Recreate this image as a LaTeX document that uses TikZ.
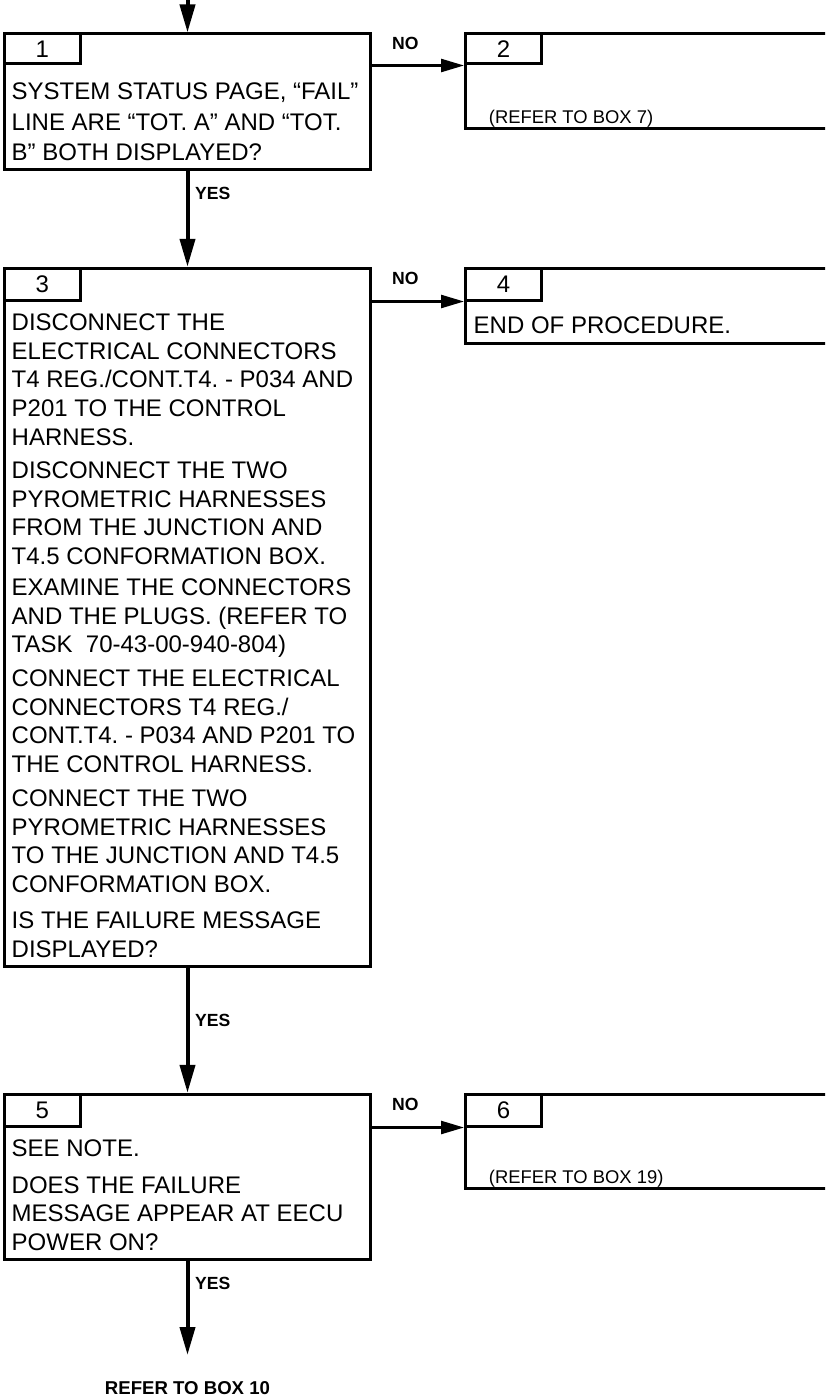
\documentclass[tikz,border=0pt]{standalone}
\usepackage{fontspec}
\setmainfont{Liberation Sans}
\usetikzlibrary{arrows.meta}
\frenchspacing
\begin{document}
\begin{tikzpicture}[x=1pt,y=-1pt,
  box/.style={draw, line width=3pt, rectangle, inner sep=0pt},
  tab/.style={draw, line width=3pt, rectangle, inner sep=0pt, font=\fontsize{24}{28}\selectfont},
  body/.style={font=\frenchspacing\fontsize{24}{#1}\selectfont, inner sep=0pt, anchor=north west, align=left},
  body/.default=28.7,
  small/.style={font=\fontsize{18.4}{22}\selectfont, inner sep=0pt, anchor=base west},
  lbl/.style={font=\bfseries\fontsize{17.6}{20}\selectfont, inner sep=0pt, anchor=base west},
  varrow/.style={line width=4pt, -{Triangle[length=28pt,width=15pt]}},
  harrow/.style={line width=2.5pt, -{Triangle[length=23pt,width=13pt]}}
]
\useasboundingbox (0,0) rectangle (825,1397);
\clip (0,0) rectangle (825,1397);

% ---- left column boxes
\node[box, minimum width=365.6pt, minimum height=135pt] (b1) at (187.5,101.5) {};
\node[tab, minimum width=75.3pt, minimum height=30pt] (t1) at (42.35,49) {1};
\node[body=30.5] (p1) at (11.5,82.7) {SYSTEM STATUS PAGE, “FAIL”\\LINE ARE “TOT. A” AND “TOT.\\B” BOTH DISPLAYED?};

\node[box, minimum width=365.6pt, minimum height=697.7pt] (b3) at (187.5,617.15) {};
\node[tab, minimum width=75.3pt, minimum height=31.7pt] (t3) at (42.35,284.15) {3};
\node[body] (p3a) at (11.5,313.4) {DISCONNECT THE\\ELECTRICAL CONNECTORS\\T4 REG./CONT.T4. - P034 AND\\P201 TO THE CONTROL\\HARNESS.};
\node[body] (p3b) at (11.5,461.4) {DISCONNECT THE TWO\\PYROMETRIC HARNESSES\\FROM THE JUNCTION AND\\T4.5 CONFORMATION BOX.};
\node[body] (p3c) at (11.5,578.4) {EXAMINE THE CONNECTORS\\AND THE PLUGS. (REFER TO\\TASK\ \ 70-43-00-940-804)};
\node[body] (p3d) at (11.5,669.4) {CONNECT THE ELECTRICAL\\CONNECTORS T4 REG./\\CONT.T4. - P034 AND P201 TO\\THE CONTROL HARNESS.};
\node[body] (p3e) at (11.5,789.4) {CONNECT THE TWO\\PYROMETRIC HARNESSES\\TO THE JUNCTION AND T4.5\\CONFORMATION BOX.};
\node[body] (p3f) at (11.5,911.4) {IS THE FAILURE MESSAGE\\DISPLAYED?};

\node[box, minimum width=365.6pt, minimum height=164.7pt] (b5) at (187.5,1176.65) {};
\node[tab, minimum width=75.3pt, minimum height=31.7pt] (t5) at (42.35,1110.15) {5};
\node[body] (p5a) at (11.5,1139.4) {SEE NOTE.};
\node[body=28.5] (p5b) at (11.5,1176.4) {DOES THE FAILURE\\MESSAGE APPEAR AT EECU\\POWER ON?};

% ---- right column boxes
\node[box, minimum width=374.5pt, minimum height=94.6pt] (b2) at (652.75,81) {};
\node[tab, minimum width=76.2pt, minimum height=30.3pt] (t2) at (503.6,48.85) {2};
\node[small] (p2) at (488.7,123) {(REFER TO BOX 7)};

\node[box, minimum width=374.5pt, minimum height=75pt] (b4) at (652.75,305.8) {};
\node[tab, minimum width=76.2pt, minimum height=31.7pt] (t4) at (503.6,284.15) {4};
\node[body] (p4) at (473.5,316.7) {END OF PROCEDURE.};

\node[box, minimum width=374.5pt, minimum height=94pt] (b6) at (652.75,1141.3) {};
\node[tab, minimum width=76.2pt, minimum height=31.7pt] (t6) at (503.6,1110.15) {6};
\node[small] (p6) at (488.7,1183) {(REFER TO BOX 19)};

% ---- connectors
\coordinate (entry) at (187.5,0);
\coordinate (exit) at (187.5,1355);
\draw[varrow] (entry) -- (b1.north);
\draw[varrow] (b1.south) -- (b3.north);
\draw[varrow] (b3.south) -- (b5.north);
\draw[varrow] (b5.south) -- (exit);

\draw[harrow] (b1.east |- t1.south) -- (t2.south west);
\draw[harrow] (b3.east |- t3.south) -- (t4.south west);
\draw[harrow] (b5.east |- t5.south) -- (t6.south west);

% ---- labels
\node[lbl] (no1) at (392,49.3) {NO};
\node[lbl] (no3) at (392,284) {NO};
\node[lbl] (no5) at (392,1110.5) {NO};
\node[lbl] (yes1) at (195,199) {YES};
\node[lbl] (yes3) at (195,1026) {YES};
\node[lbl] (yes5) at (195,1289) {YES};
\node[font=\bfseries\fontsize{18.6}{22}\selectfont, inner sep=0pt, anchor=base] (ref10) at (187.5,1394.5) {REFER TO BOX 10};
\end{tikzpicture}
\end{document}
